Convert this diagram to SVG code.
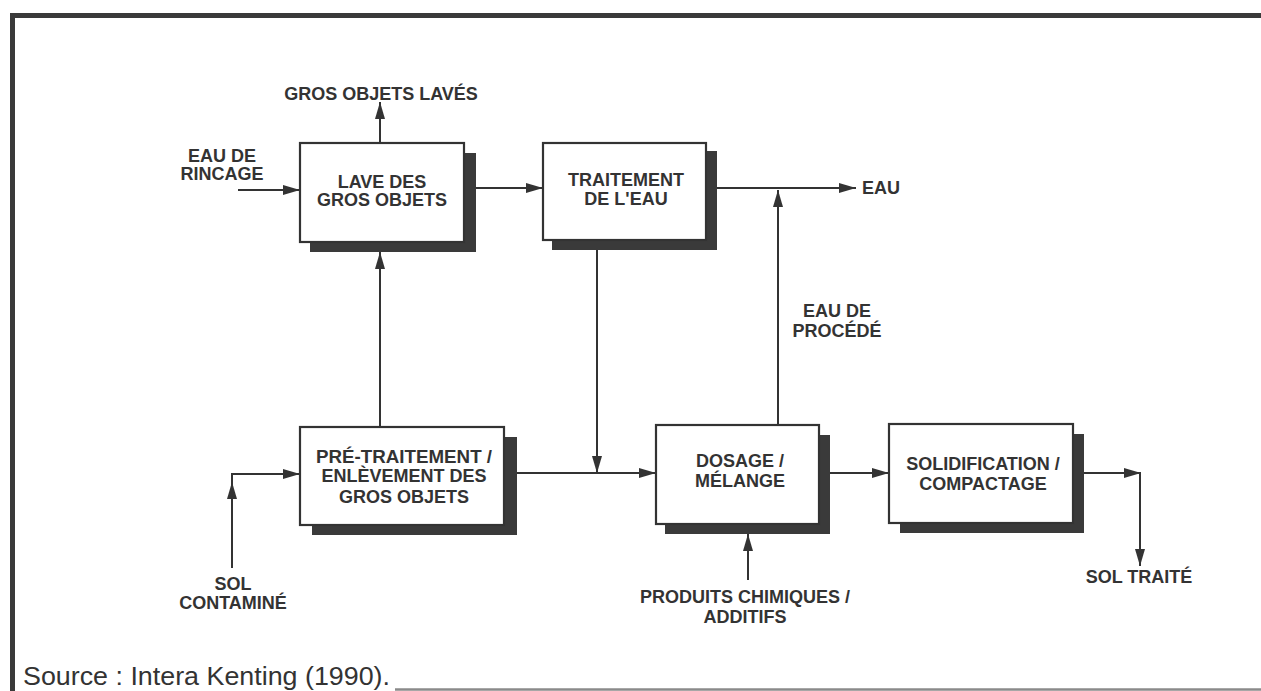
<svg xmlns="http://www.w3.org/2000/svg" width="1261" height="691" viewBox="0 0 1261 691">
<style>
.t{font-family:"Liberation Sans",Arial,sans-serif;font-size:18px;font-weight:bold;fill:#333;text-anchor:middle}
.box{fill:#fff;stroke:#333;stroke-width:2.2}
.sh{fill:#3a3a3a}
.ln{fill:none;stroke:#333;stroke-width:2}
</style>
<defs>
<marker id="ah" markerUnits="userSpaceOnUse" markerWidth="18" markerHeight="12" refX="17" refY="5" orient="auto" viewBox="0 0 18 10">
<path d="M0,0 L17,5 L0,10 z" fill="#333"/>
</marker>
</defs>
<rect width="1261" height="691" fill="#fff"/>
<g id="frame">
<line x1="10" y1="15.5" x2="1261" y2="15.5" stroke="#3a3a3a" stroke-width="5"/>
<line x1="12.5" y1="13" x2="12.5" y2="691" stroke="#3a3a3a" stroke-width="5"/>
<line x1="395" y1="689.5" x2="1261" y2="689.5" stroke="#8a8a8a" stroke-width="2.5"/>
</g>
<g id="connectors">
<line class="ln" x1="380" y1="143" x2="380" y2="102" marker-end="url(#ah)"/>
<line class="ln" x1="238" y1="190" x2="300" y2="190" marker-end="url(#ah)"/>
<line class="ln" x1="476" y1="188" x2="543" y2="188" marker-end="url(#ah)"/>
<line class="ln" x1="717" y1="188" x2="856" y2="188" marker-end="url(#ah)"/>
<line class="ln" x1="778" y1="425" x2="778" y2="190" marker-end="url(#ah)"/>
<line class="ln" x1="597" y1="250" x2="597" y2="473" marker-end="url(#ah)"/>
<line class="ln" x1="517" y1="473" x2="656" y2="473" marker-end="url(#ah)"/>
<line class="ln" x1="380" y1="427" x2="380" y2="252" marker-end="url(#ah)"/>
<line class="ln" x1="232" y1="568" x2="232" y2="482" marker-end="url(#ah)"/>
<polyline class="ln" points="232,483 232,474 300,474" marker-end="url(#ah)"/>
<line class="ln" x1="830" y1="473" x2="889" y2="473" marker-end="url(#ah)"/>
<line class="ln" x1="1084" y1="473" x2="1141" y2="473" marker-end="url(#ah)"/>
<line class="ln" x1="1140" y1="472" x2="1140" y2="566" marker-end="url(#ah)"/>
<line class="ln" x1="748" y1="580" x2="748" y2="534" marker-end="url(#ah)"/>
</g>
<g id="n-lave">
<rect class="sh" x="310" y="153" width="166" height="99"/>
<rect class="box" x="300" y="143" width="164" height="99"/>
<text class="t" x="382" y="188">LAVE DES</text>
<text class="t" x="382" y="206">GROS OBJETS</text>
</g>
<g id="n-traitement">
<rect class="sh" x="552" y="151" width="165" height="99"/>
<rect class="box" x="543" y="143" width="163" height="97"/>
<text class="t" x="626" y="186">TRAITEMENT</text>
<text class="t" x="626" y="205">DE L'EAU</text>
</g>
<g id="n-pretraitement">
<rect class="sh" x="312" y="437" width="205" height="98"/>
<rect class="box" x="300" y="427" width="204" height="98"/>
<text class="t" x="404" y="463" textLength="176" lengthAdjust="spacingAndGlyphs">PRÉ-TRAITEMENT /</text>
<text class="t" x="404" y="482">ENLÈVEMENT DES</text>
<text class="t" x="404" y="503">GROS OBJETS</text>
</g>
<g id="n-dosage">
<rect class="sh" x="665" y="435" width="165" height="99"/>
<rect class="box" x="656" y="425" width="163" height="99"/>
<text class="t" x="740" y="467">DOSAGE /</text>
<text class="t" x="740" y="487">MÉLANGE</text>
</g>
<g id="n-solidification">
<rect class="sh" x="900" y="434" width="184" height="99"/>
<rect class="box" x="889" y="424" width="184" height="99"/>
<text class="t" x="983" y="470">SOLIDIFICATION /</text>
<text class="t" x="983" y="490">COMPACTAGE</text>
</g>
<g id="labels">
<text class="t" x="381" y="100">GROS OBJETS LAVÉS</text>
<text class="t" x="222" y="162">EAU DE</text>
<text class="t" x="222" y="180">RINCAGE</text>
<text class="t" x="862" y="194" style="text-anchor:start">EAU</text>
<text class="t" x="837" y="317">EAU DE</text>
<text class="t" x="837" y="337">PROCÉDÉ</text>
<text class="t" x="233" y="590">SOL</text>
<text class="t" x="233" y="609">CONTAMINÉ</text>
<text class="t" x="1139" y="583">SOL TRAITÉ</text>
<text class="t" x="745" y="603">PRODUITS CHIMIQUES /</text>
<text class="t" x="745" y="623">ADDITIFS</text>
<text x="23" y="685" font-family="'Liberation Sans',Arial,sans-serif" font-size="25" fill="#333" textLength="367" lengthAdjust="spacingAndGlyphs">Source : Intera Kenting (1990).</text>
</g>
</svg>
